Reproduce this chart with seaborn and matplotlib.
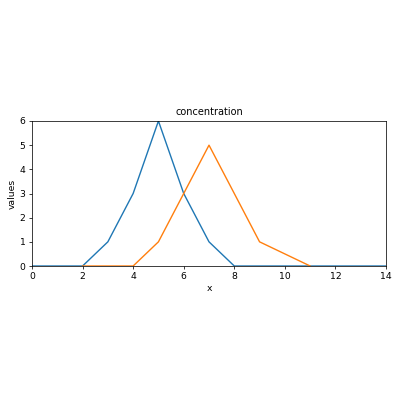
import numpy as np
import pandas as pd
import matplotlib
matplotlib.use('Agg')
import matplotlib.pyplot as plt
import seaborn as sns

# data
x_blue = [0, 1, 2, 3, 4, 5, 6, 7, 8, 9, 10, 11, 12, 13, 14]
blue = [0, 0, 0, 1, 3, 6, 3, 1, 0, 0, 0, 0, 0, 0, 0]
x_orange = [2, 3, 4, 5, 6, 7, 8, 9, 10, 11]
orange = [0, 0, 0, 1, 3, 5, 3, 1, 0.5, 0]

df_blue = pd.DataFrame({'x': x_blue, 'values': blue})
df_orange = pd.DataFrame({'x': x_orange, 'values': orange})

fig = plt.figure(figsize=(6, 6), dpi=400 / 6)
ax = fig.add_axes([0.08, 0.335, 0.885, 0.3625])

sns.lineplot(data=df_blue, x='x', y='values', color='tab:blue', ax=ax)
sns.lineplot(data=df_orange, x='x', y='values', color='tab:orange', ax=ax)

ax.set_xlim(0, 14)
ax.set_ylim(0, 6)
ax.set_title('concentration', fontsize=10.5)
ax.set_xlabel('x', labelpad=3)
ax.set_ylabel('values', labelpad=3)

plt.savefig('out.png', dpi=400 / 6)
